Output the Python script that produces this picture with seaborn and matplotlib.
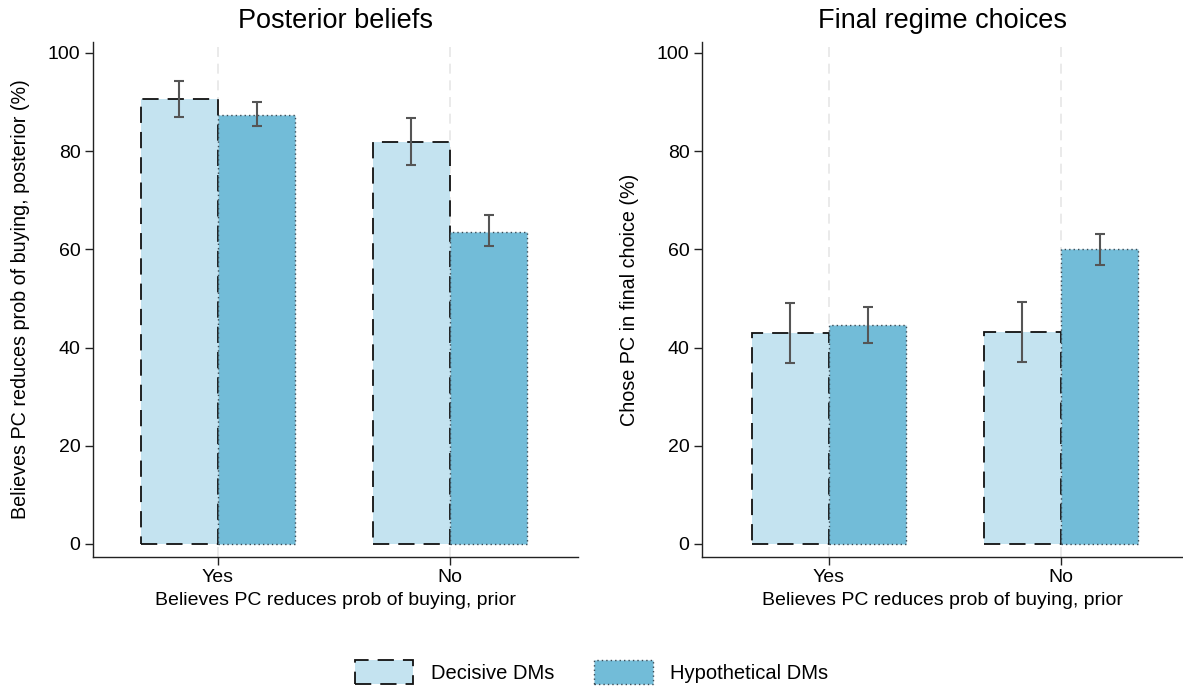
import matplotlib
matplotlib.use("Agg")
import matplotlib.pyplot as plt
from matplotlib.patches import Patch
import seaborn as sns
import pandas as pd

# Group means and 95% CI bounds (percent)
categories = ["Yes", "No"]
groups = ["Decisive DMs", "Hypothetical DMs"]

posterior_decisive = [90.6, 81.9]
posterior_decisive_lo = [87.0, 77.2]
posterior_decisive_hi = [94.3, 86.8]
posterior_hypo = [87.4, 63.5]
posterior_hypo_lo = [85.1, 60.7]
posterior_hypo_hi = [90.0, 67.0]

choice_decisive = [43.0, 43.2]
choice_decisive_lo = [36.9, 37.1]
choice_decisive_hi = [49.1, 49.3]
choice_hypo = [44.6, 60.1]
choice_hypo_lo = [40.9, 56.8]
choice_hypo_hi = [48.3, 63.1]

colors = {"Decisive DMs": "#c4e3f0", "Hypothetical DMs": "#72bcd8"}
edge_styles = {
    "Decisive DMs": dict(edgecolor="#111111", linestyle=(0, (9, 5)), linewidth=1.3),
    "Hypothetical DMs": dict(edgecolor="#3a4a55", linestyle=(0, (1, 2.2)), linewidth=1.0),
}

sns.set_theme(style="white")
plt.rcParams["font.family"] = ["Liberation Sans", "DejaVu Sans"]
plt.rcParams.update({
    "text.color": "black",
    "axes.labelcolor": "black",
    "xtick.color": "black",
    "ytick.color": "black",
})


def make_frame(dec, dec_lo, dec_hi, hyp, hyp_lo, hyp_hi):
    rows = []
    for i, c in enumerate(categories):
        rows.append(dict(prior=c, group=groups[0], value=dec[i], lo=dec_lo[i], hi=dec_hi[i]))
        rows.append(dict(prior=c, group=groups[1], value=hyp[i], lo=hyp_lo[i], hi=hyp_hi[i]))
    return pd.DataFrame(rows)


panels = [
    ("Posterior beliefs", "Believes PC reduces prob of buying, posterior (%)",
     make_frame(posterior_decisive, posterior_decisive_lo, posterior_decisive_hi,
                posterior_hypo, posterior_hypo_lo, posterior_hypo_hi),
     (-0.539, 1.552)),
    ("Final regime choices", "Chose PC in final choice (%)",
     make_frame(choice_decisive, choice_decisive_lo, choice_decisive_hi,
                choice_hypo, choice_hypo_lo, choice_hypo_hi),
     (-0.547, 1.526)),
]

fig = plt.figure(figsize=(11.83, 6.9), dpi=100)
axes = [fig.add_axes([0.0786, 0.1928, 0.41, 0.7464]),
        fig.add_axes([0.5934, 0.1928, 0.4066, 0.7464])]

for ax, (title, ylabel, df, xlim) in zip(axes, panels):
    for x in range(len(categories)):
        ax.axvline(x, color="#e6e6e6", linestyle=(0, (6, 4)), linewidth=1.2, zorder=0)

    sns.barplot(data=df, x="prior", y="value", hue="group", order=categories,
                hue_order=groups, palette=colors, width=0.667, errorbar=None,
                saturation=1, ax=ax, legend=False, zorder=2)

    # Style each bar and attach its confidence interval
    bars = [p for p in ax.patches]
    for gi, g in enumerate(groups):
        sub = df[df["group"] == g].set_index("prior").loc[categories]
        for ci, c in enumerate(categories):
            bar = bars[gi * len(categories) + ci]
            bar.set(**edge_styles[g])
            xc = bar.get_x() + bar.get_width() / 2
            v = sub.loc[c, "value"]
            ax.errorbar(xc, v, yerr=[[v - sub.loc[c, "lo"]], [sub.loc[c, "hi"] - v]],
                        fmt="none", ecolor="#555555", elinewidth=1.5, capsize=3.5,
                        capthick=1.5, zorder=4)

    ax.set_xlim(*xlim)
    ax.set_ylim(-2.65, 102.24)
    ax.set_yticks([0, 20, 40, 60, 80, 100])
    ax.set_title(title, fontsize=19.5, pad=10)
    ax.set_ylabel(ylabel, fontsize=14.2, labelpad=13)
    ax.set_xlabel("Believes PC reduces prob of buying, prior", fontsize=14, labelpad=4)
    ax.tick_params(axis="both", labelsize=14, length=6, width=1, color="#222222",
                   direction="out", pad=3)
    ax.tick_params(axis="x", bottom=True)
    ax.tick_params(axis="y", left=True)
    sns.despine(ax=ax)
    for s in ("left", "bottom"):
        ax.spines[s].set_color("#222222")
        ax.spines[s].set_linewidth(1.0)

handles = [Patch(facecolor=colors[g], **edge_styles[g]) for g in groups]
fig.legend(handles, groups, loc="center", bbox_to_anchor=(0.5, 0.026), ncol=2,
           frameon=False, fontsize=14.5, handlelength=2.9, handleheight=1.45,
           handletextpad=0.85, columnspacing=2.0)

fig.savefig("out.png", dpi=100)
